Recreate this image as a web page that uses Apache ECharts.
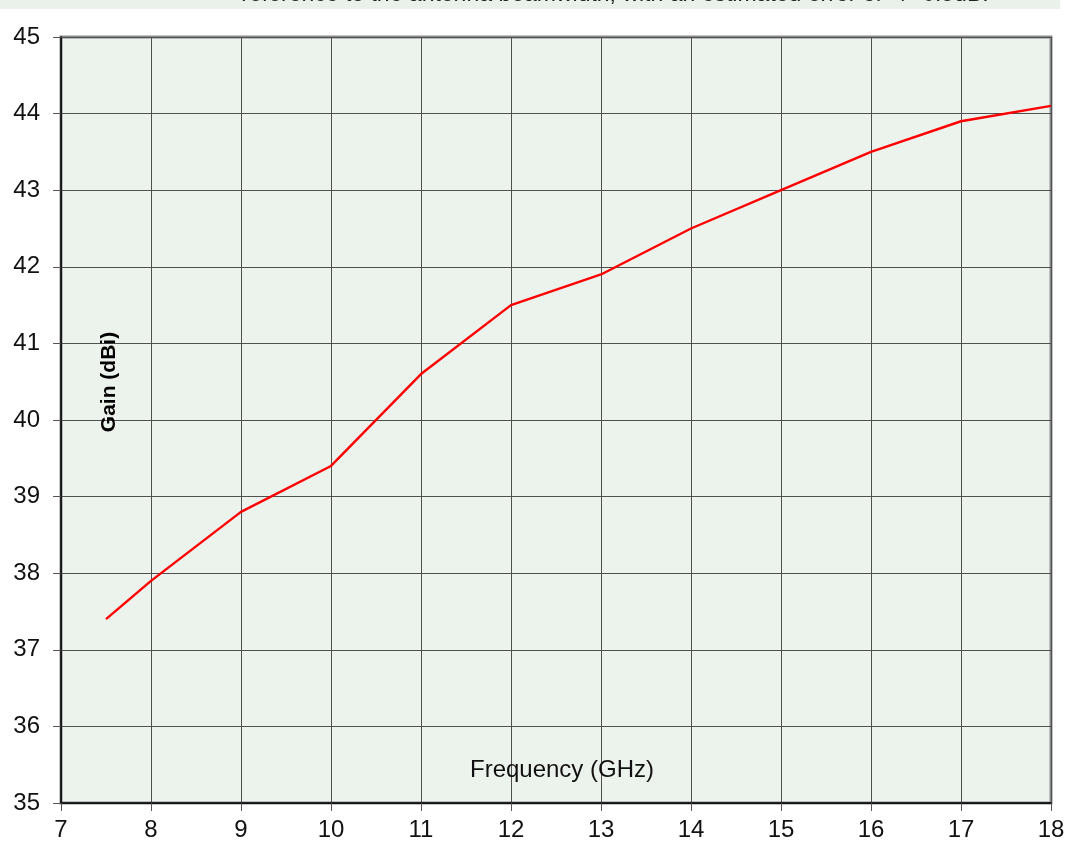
<!DOCTYPE html>
<html>
<head>
<meta charset="utf-8">
<script src="https://cdn.jsdelivr.net/npm/echarts@6/dist/echarts.min.js"></script>
<style>html,body{margin:0;padding:0;background:#fff;}#c{width:1069px;height:861px;}</style>
</head>
<body>
<div id="c"></div>
<script>
var frequency = [7.5, 8, 9, 10, 11, 12, 13, 14, 15, 16, 17, 18];
var gain = [37.4, 37.9, 38.8, 39.4, 40.6, 41.5, 41.9, 42.5, 43.0, 43.5, 43.9, 44.1];
var captionText = 'reference to the antenna beamwidth, with an estimated error of +/- 0.5dB.';
var xTitle = 'Frequency (GHz)';
var yTitle = 'Gain (dBi)';

var chart = echarts.init(document.getElementById('c'), null, {renderer: 'canvas'});
var font = 'Liberation Sans, Arial, sans-serif';
chart.setOption({
  animation: false,
  backgroundColor: '#ffffff',
  graphic: [
    {type: 'rect', left: 0, top: 0, shape: {x: 0, y: 0, width: 1060, height: 9}, style: {fill: '#EAF1EA'}, z: 0},
    {type: 'text', x: 615, y: -5, style: {text: captionText, fontSize: 23, fontFamily: font, fill: '#222', align: 'center', verticalAlign: 'middle'}, z: 1},
    {type: 'text', x: 109, y: 382, rotation: Math.PI / 2, style: {text: yTitle, fontSize: 21, fontWeight: 'bold', fontFamily: font, fill: '#000', align: 'center', verticalAlign: 'middle'}, z: 10}
  ],
  grid: {left: 61, right: 18, top: 37, bottom: 58, show: true, backgroundColor: '#ECF2EC', borderColor: '#8a8a8a', borderWidth: 3},
  xAxis: {
    type: 'value', min: 7, max: 18, interval: 1,
    name: xTitle, nameLocation: 'middle', nameGap: -45,
    nameTextStyle: {fontSize: 24, fontFamily: font, color: '#111', padding: [0, 0, 0, 12]},
    axisLine: {show: true, onZero: false, lineStyle: {color: '#000', width: 1.5}},
    axisTick: {show: true, length: 8, lineStyle: {color: '#555'}},
    axisLabel: {fontSize: 24, fontFamily: font, color: '#111', margin: 15},
    splitLine: {show: true, lineStyle: {color: '#505050', width: 1}}
  },
  yAxis: {
    type: 'value', min: 35, max: 45, interval: 1,
    axisLine: {show: true, onZero: false, lineStyle: {color: '#000', width: 1.5}},
    axisTick: {show: true, length: 8, lineStyle: {color: '#555'}},
    axisLabel: {fontSize: 24, fontFamily: font, color: '#111', margin: 21},
    splitLine: {show: true, lineStyle: {color: '#505050', width: 1}}
  },
  series: [{
    type: 'line',
    data: frequency.map(function (f, i) { return [f, gain[i]]; }),
    showSymbol: false,
    lineStyle: {color: '#ff0000', width: 2.4},
    z: 5
  }]
});
</script>
</body>
</html>
